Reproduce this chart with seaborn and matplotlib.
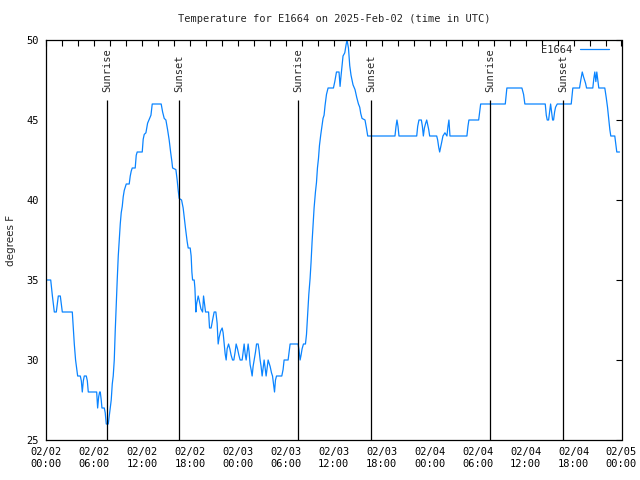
import pandas as pd
import matplotlib
matplotlib.use('Agg')
import matplotlib.pyplot as plt
import matplotlib.dates as mdates
import seaborn as sns

# hours since 2025-02-02 00:00 UTC and temperature (F)
horas = [0.00, 0.59, 0.80, 1.04, 1.29, 1.54, 1.79, 2.04, 3.29, 3.54, 3.70, 3.96, 4.29, 4.42, 4.54,
         4.67, 4.79, 5.04, 5.17, 5.29, 6.34, 6.46, 6.59, 6.71, 6.79, 6.91, 7.00, 7.29, 7.41, 7.54,
         7.79, 7.91, 8.04, 8.16, 8.29, 8.41, 8.54, 8.66, 8.79, 8.91, 9.04, 9.16, 9.29, 9.41, 9.54,
         9.66, 9.79, 9.91, 10.04, 10.41, 10.54, 10.66, 10.79, 11.16, 11.29, 11.41, 12.04, 12.16,
         12.29, 12.50, 12.71, 12.88, 13.13, 13.29, 14.41, 14.59, 14.79, 15.00, 15.21, 15.41, 15.59,
         15.75, 15.84, 16.25, 16.41, 16.54, 16.66, 16.96, 17.16, 17.33, 17.46, 17.66, 17.79, 18.04,
         18.16, 18.25, 18.34, 18.54, 18.63, 18.75, 18.84, 19.04, 19.16, 19.38, 19.59, 19.71, 19.84,
         19.96, 20.34, 20.46, 20.66, 20.84, 21.04, 21.25, 21.41, 21.54, 21.66, 21.84, 22.04, 22.16,
         22.29, 22.41, 22.54, 22.66, 22.84, 23.00, 23.16, 23.34, 23.50, 23.66, 23.79, 23.96, 24.13,
         24.29, 24.54, 24.66, 24.79, 24.91, 25.04, 25.16, 25.29, 25.41, 25.54, 25.66, 25.79, 25.91,
         26.04, 26.21, 26.34, 26.54, 26.66, 26.79, 26.91, 27.04, 27.16, 27.29, 27.41, 27.54, 27.66,
         27.79, 28.04, 28.21, 28.34, 28.46, 28.59, 28.71, 28.84, 29.50, 29.66, 29.79, 30.29, 30.41,
         30.54, 31.54, 31.66, 31.79, 31.91, 32.04, 32.21, 32.46, 32.59, 32.71, 32.88, 33.04, 33.16,
         33.29, 33.41, 33.54, 33.71, 33.84, 33.96, 34.09, 34.21, 34.38, 34.54, 34.66, 34.79, 34.91,
         35.09, 35.29, 35.96, 36.13, 36.34, 36.66, 36.79, 36.88, 37.04, 37.16, 37.38, 37.54, 37.66,
         37.84, 38.00, 38.16, 38.41, 38.66, 38.88, 39.09, 39.25, 39.38, 39.54, 39.91, 40.09, 40.25,
         43.66, 43.79, 43.91, 44.04, 44.16, 46.38, 46.50, 46.66, 46.96, 47.09, 47.21, 47.34, 47.50,
         47.63, 47.75, 47.88, 48.00, 48.88, 49.00, 49.13, 49.25, 49.38, 49.50, 49.66, 49.91, 50.16,
         50.29, 50.41, 50.54, 52.66, 52.79, 52.91, 54.13, 54.25, 54.38, 57.46, 57.66, 59.54, 59.75,
         59.91, 62.46, 62.59, 62.71, 62.88, 63.00, 63.13, 63.25, 63.38, 63.50, 63.63, 63.75, 63.96,
         65.71, 65.91, 66.75, 66.91, 67.09, 67.25, 67.50, 67.63, 68.41, 68.54, 68.66, 68.79, 68.91,
         69.04, 69.16, 69.91, 70.09, 70.25, 70.41, 70.54, 70.66, 71.16, 71.29, 71.41, 71.75]
temps = [35.0, 35.0, 34.0, 33.0, 33.0, 34.0, 34.0, 33.0, 33.0, 31.0, 30.0, 29.0, 29.0, 28.7, 28.0,
         28.7, 29.0, 29.0, 28.7, 28.0, 28.0, 27.0, 27.7, 28.0, 28.0, 27.5, 27.0, 27.0, 26.7, 26.0,
         26.0, 26.5, 27.0, 27.5, 28.5, 29.0, 30.0, 31.8, 33.5, 35.0, 36.5, 37.5, 38.5, 39.2, 39.6,
         40.2, 40.6, 40.8, 41.0, 41.0, 41.5, 41.8, 42.0, 42.0, 42.8, 43.0, 43.0, 43.8,
         44.1, 44.2, 44.8, 45.0, 45.3, 46.0, 46.0, 45.5, 45.1, 45.0, 44.4, 43.75, 43.0,
         42.4, 42.0, 41.9, 41.25, 40.6, 40.1, 40.0, 39.5, 38.75, 38.2, 37.4, 37.0, 37.0,
         36.5, 35.5, 35.0, 35.0, 34.5, 33.0, 33.5, 34.0, 33.75, 33.2, 33.0, 34.0, 33.5,
         33.0, 33.0, 32.0, 32.0, 32.5, 33.0, 33.0, 32.3, 31.0, 31.4, 31.8, 32.0, 31.7,
         31.0, 30.4, 30.0, 30.7, 31.0, 30.7, 30.3, 30.0, 30.0, 30.5, 31.0, 30.7, 30.3,
         30.0, 30.0, 30.5, 31.0, 30.4, 30.0, 30.5, 31.0, 30.5, 29.7, 29.4, 29.0, 29.6,
         30.0, 30.5, 31.0, 31.0, 30.6, 30.0, 29.6, 29.0, 29.5, 30.0, 29.5, 29.0, 29.5,
         30.0, 29.6, 29.2, 29.0, 28.5, 28.0, 28.75, 29.0, 29.0, 29.4, 30.0, 30.0, 30.5,
         31.0, 31.0, 30.6, 30.0, 30.3, 30.7, 31.0, 31.0, 31.6, 32.6, 34.1, 35.1, 36.1,
         37.4, 38.4, 39.5, 40.5, 41.1, 42.0, 42.6, 43.4, 44.1, 44.7, 45.1, 45.3, 45.9,
         46.6, 47.0, 47.0, 47.4, 48.0, 48.0, 47.1, 47.6, 48.4, 49.0, 49.2, 49.7, 50.0,
         49.5, 48.4, 47.8, 47.2, 46.9, 46.4, 46.0, 45.8, 45.4, 45.1, 45.0, 44.5, 44.0,
         44.0, 44.6, 45.0, 44.6, 44.0, 44.0, 44.6, 45.0, 45.0, 44.6, 44.0, 44.5, 44.8,
         45.0, 44.7, 44.4, 44.0, 44.0, 43.75, 43.3, 43.0, 43.3, 43.6, 44.0, 44.2, 44.0,
         44.6, 45.0, 44.0, 44.0, 44.6, 45.0, 45.0, 45.5, 46.0, 46.0, 47.0, 47.0, 46.6,
         46.0, 46.0, 45.3, 45.0, 45.0, 45.5, 46.0, 45.5, 45.0, 45.0, 45.5, 45.8, 46.0,
         46.0, 47.0, 47.0, 47.5, 48.0, 47.7, 47.3, 47.0, 47.0, 47.6, 48.0, 47.4, 48.0,
         47.5, 47.0, 47.0, 46.4, 45.8, 45.0, 44.4, 44.0, 44.0, 43.5, 43.0, 43.0]

# sunrise / sunset markers (hours since start)
eventos = ['Sunrise', 'Sunset', 'Sunrise', 'Sunset', 'Sunrise', 'Sunset']
eventos_horas = [7.67, 16.67, 31.55, 40.65, 55.58, 64.67]

inicio = pd.Timestamp('2025-02-02 00:00')
df = pd.DataFrame({'hora': inicio + pd.to_timedelta(horas, unit='h'), 'temp': temps})
t_eventos = inicio + pd.to_timedelta(eventos_horas, unit='h')

sns.set_style('white')
plt.rcParams['font.family'] = ['DejaVu Sans Mono', 'DejaVu Sans']

fig = plt.figure(figsize=(6.4, 4.8), dpi=100)
ax = fig.add_axes([46 / 640, 40 / 480, 575.5 / 640, 400 / 480])

sns.lineplot(data=df, x='hora', y='temp', ax=ax, estimator=None, sort=False,
             color='#0a84ff', linewidth=0.9, label='E1664')

ax.vlines(t_eventos, 25, 46.25, color='black', linewidth=0.9)
for t, nome in zip(t_eventos, eventos):
    ax.text(t, 46.75, nome, rotation=90, ha='center', va='bottom', fontsize=7.5)

ax.set_xlim(inicio, inicio + pd.Timedelta(hours=72))
ax.set_ylim(25, 50)
ax.set_yticks([25, 30, 35, 40, 45, 50])
ax.xaxis.set_major_locator(mdates.HourLocator(byhour=range(0, 24, 6)))
ax.xaxis.set_minor_locator(mdates.HourLocator(byhour=range(0, 24, 2)))
ax.xaxis.set_major_formatter(mdates.DateFormatter('%m/%d\n%H:%M'))
ax.tick_params(which='both', direction='in', length=4, width=0.8, top=True, right=True,
               labelsize=7.5, colors='black')
ax.tick_params(axis='x', pad=5)
ax.tick_params(axis='y', pad=5)
for s in ax.spines.values():
    s.set_color('black')
    s.set_linewidth(0.9)

ax.set_xlabel('')
ax.set_ylabel('degrees F', fontsize=7.5, family='DejaVu Sans')
ax.yaxis.set_label_coords(-0.052, 0.5)

ax.text(0.5, 1.0525, 'Temperature for E1664 on 2025-Feb-02 (time in UTC)',
        transform=ax.transAxes, ha='center', va='center', fontsize=7.5)

ax.legend(loc='upper right', bbox_to_anchor=(0.99, 1.005), frameon=False, markerfirst=False,
          fontsize=7.5, handlelength=2.8, handletextpad=0.7, borderaxespad=0.25)

plt.savefig('out.png', dpi=100)
